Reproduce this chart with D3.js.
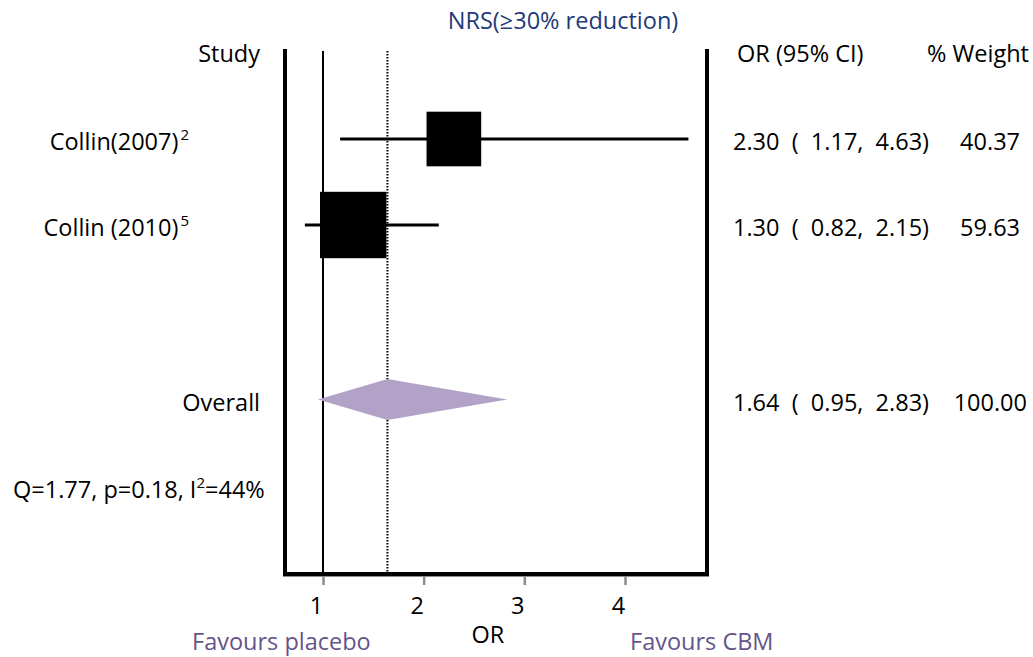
<!DOCTYPE html>
<html>
<head>
<meta charset="utf-8">
<script src="https://cdn.jsdelivr.net/npm/d3@7"></script>
<style>
  html, body { margin: 0; padding: 0; background: #fff; }
  svg { display: block; font-family: "Open Sans", "Noto Sans", sans-serif; }
  text { white-space: pre; }
</style>
</head>
<body>
<svg id="chart" width="1033" height="657"></svg>
<script>
// Study-level results
const studies   = ["Collin(2007)", "Collin (2010)"];
const refs      = ["2", "5"];
const orValues  = [2.30, 1.30];
const ciLow     = [1.17, 0.82];
const ciHigh    = [4.63, 2.15];
const weights   = [40.37, 59.63];

// Pooled estimate
const overallOR     = 1.64;
const overallLow    = 0.95;
const overallHigh   = 2.83;
const overallWeight = 100.00;

// Heterogeneity
const hetQ  = 1.77;
const hetP  = 0.18;
const hetI2 = 44;

const xTicks = [1, 2, 3, 4];

const svg = d3.select("#chart");
const fs = 23.5;
const sup = 15;

const x = d3.scaleLinear().domain([1, 4]).range([323, 625]);
// row index -> vertical centre (pooled row sits a little below row 3)
const y = d3.scaleLinear().domain([0, 1]).range([139, 225]);
const overallRow = 3.03;

const frameLeft = 285, frameRight = 707, frameTop = 49, frameBottom = 574;

// axis
const axis = svg.append("g")
  .attr("transform", `translate(0,${frameBottom + 2})`)
  .call(d3.axisBottom(x).tickValues(xTicks).tickFormat(d3.format("d")).tickSize(9).tickPadding(12));
axis.select(".domain").attr("d", `M${frameLeft - 2},0H${frameRight + 2}`)
  .attr("stroke", "#8c8c8c").attr("stroke-width", 2);
axis.selectAll(".tick line").attr("stroke", "#8c8c8c").attr("stroke-width", 2.5);
axis.selectAll(".tick text")
  .attr("font-size", fs).attr("font-family", "Open Sans").attr("fill", "#000")
  .attr("dx", -7);

// frame
svg.append("path")
  .attr("d", `M${frameLeft},${frameTop}V${frameBottom}H${frameRight}V${frameTop}`)
  .attr("fill", "none").attr("stroke", "#000").attr("stroke-width", 4);

// line of no effect
svg.append("line")
  .attr("x1", x(1)).attr("x2", x(1)).attr("y1", frameTop + 2).attr("y2", frameBottom)
  .attr("stroke", "#000").attr("stroke-width", 2);

// pooled estimate reference line
svg.append("line")
  .attr("x1", x(overallOR)).attr("x2", x(overallOR)).attr("y1", frameTop + 2).attr("y2", frameBottom)
  .attr("stroke", "#000").attr("stroke-width", 2).attr("stroke-dasharray", "1.5,1.5");

// confidence intervals
const idx = d3.range(studies.length);
svg.selectAll(".ci").data(idx).join("line")
  .attr("x1", i => x(ciLow[i])).attr("x2", i => x(ciHigh[i]))
  .attr("y1", i => y(i)).attr("y2", i => y(i))
  .attr("stroke", "#000").attr("stroke-width", 3);

// weight squares (area proportional to weight)
const side = d3.scaleSqrt().domain([0, 100]).range([0, 86]);
svg.selectAll(".box").data(idx).join("rect")
  .attr("x", i => x(orValues[i]) - side(weights[i]) / 2)
  .attr("y", i => y(i) - side(weights[i]) / 2)
  .attr("width", i => side(weights[i]))
  .attr("height", i => side(weights[i]))
  .attr("fill", "#000");

// pooled diamond
const yo = y(overallRow);
svg.append("path")
  .attr("d", `M${x(overallLow)},${yo}L${x(overallOR)},${yo - 20.5}L${x(overallHigh)},${yo}L${x(overallOR)},${yo + 20.5}Z`)
  .attr("fill", "#b3a2c7");

// title
svg.append("text").attr("x", 563).attr("y", 29).attr("text-anchor", "middle")
  .attr("font-size", fs).attr("fill", "#1f3a78").text("NRS(\u226530% reduction)");

// headers
svg.append("text").attr("x", 260).attr("y", 62).attr("text-anchor", "end")
  .attr("font-size", fs).text("Study");
svg.append("text").attr("x", 737).attr("y", 62)
  .attr("font-size", fs).text("OR (95% CI)");
svg.append("text").attr("x", 1029).attr("y", 62).attr("text-anchor", "end")
  .attr("font-size", fs).text("% Weight");

// study labels with reference superscripts
const lab = svg.selectAll(".lab").data(idx).join("text")
  .attr("x", 189).attr("y", i => y(i) + 11).attr("text-anchor", "end")
  .attr("font-size", fs);
lab.append("tspan").text(i => studies[i]);
lab.append("tspan").attr("dy", -10).attr("dx", 2).attr("font-size", sup).text(i => refs[i]);

svg.append("text").attr("x", 260).attr("y", yo + 11).attr("text-anchor", "end")
  .attr("font-size", fs).text("Overall");

// right-hand columns
const f2 = d3.format(".2f");
const ciText = (o, l, h) => `${f2(o)}  (  ${f2(l)},  ${f2(h)})`;
svg.selectAll(".ort").data(idx).join("text")
  .attr("x", 733).attr("y", i => y(i) + 11).attr("font-size", fs)
  .text(i => ciText(orValues[i], ciLow[i], ciHigh[i]));
svg.selectAll(".wt").data(idx).join("text")
  .attr("x", 1020).attr("y", i => y(i) + 11).attr("text-anchor", "end").attr("font-size", fs)
  .text(i => f2(weights[i]));
svg.append("text").attr("x", 733).attr("y", yo + 11).attr("font-size", fs)
  .text(ciText(overallOR, overallLow, overallHigh));
svg.append("text").attr("x", 1027).attr("y", yo + 11).attr("text-anchor", "end").attr("font-size", fs)
  .text(f2(overallWeight));

// heterogeneity statistics
const het = svg.append("text").attr("x", 13).attr("y", 498).attr("font-size", fs);
het.append("tspan").text(`Q=${f2(hetQ)}, p=${f2(hetP)}, I`);
het.append("tspan").attr("dy", -10).attr("font-size", sup).text("2");
het.append("tspan").attr("dy", 10).text(`=${hetI2}%`);

// axis title and direction labels
svg.append("text").attr("x", 488).attr("y", 643).attr("text-anchor", "middle")
  .attr("font-size", fs).text("OR");
svg.append("text").attr("x", 192).attr("y", 650)
  .attr("font-size", fs).attr("fill", "#65548a").text("Favours placebo");
svg.append("text").attr("x", 630).attr("y", 650)
  .attr("font-size", fs).attr("fill", "#65548a").text("Favours CBM");
</script>
</body>
</html>
